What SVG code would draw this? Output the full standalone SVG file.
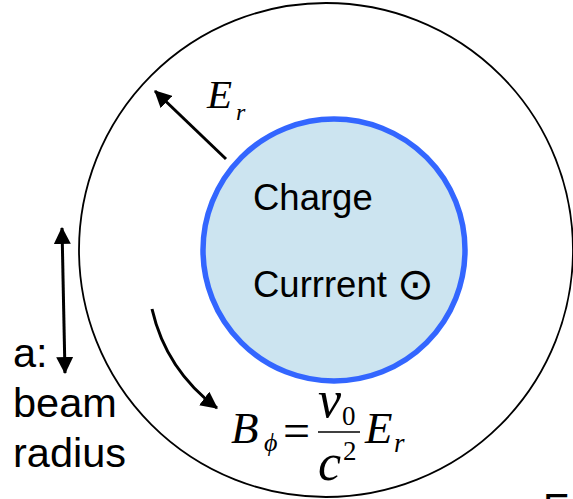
<svg xmlns="http://www.w3.org/2000/svg" width="573" height="499" viewBox="0 0 573 499">
  <defs>
    <style>
      .sans { font-family: "Liberation Sans", Arial, sans-serif; fill: #000; }
      .math { font-family: "Liberation Serif", "Times New Roman", serif; font-style: italic; fill: #000; }
      .up { font-family: "Liberation Serif", "Times New Roman", serif; fill: #000; }
      .arrow { fill: none; stroke: #000; stroke-width: 3; }
    </style>
    <marker id="head" viewBox="0 0 16 16" refX="15" refY="8" markerWidth="17" markerHeight="17" markerUnits="userSpaceOnUse" orient="auto-start-reverse">
      <path d="M0,0 L16,8 L0,16 z" fill="#000"/>
    </marker>
  </defs>
  <rect width="573" height="499" fill="#fff"/>

  <g id="outer-region">
    <circle cx="326" cy="250" r="247" fill="none" stroke="#000" stroke-width="1.8"/>
  </g>

  <g id="beam">
    <circle cx="334" cy="250" r="131" fill="#cce4f0" stroke="#3366ff" stroke-width="5.5"/>
    <text class="sans" x="253" y="210" font-size="36.5">Charge</text>
    <text class="sans" x="253" y="297" font-size="36.5">Currrent <tspan font-family="'DejaVu Sans', sans-serif" font-size="44" dy="2">⊙</tspan></text>
  </g>

  <g id="er-label">
    <text class="math" x="207" y="108" font-size="41">E</text>
    <text class="math" x="236" y="120" font-size="24">r</text>
  </g>

  <g id="formula">
    <text class="math" x="231" y="443" font-size="45">B</text>
    <text class="math" x="264" y="451" font-size="26">ϕ</text>
    <text class="up" x="283" y="447" font-size="48">=</text>
    <line x1="318" y1="432" x2="360" y2="432" stroke="#000" stroke-width="1.6"/>
    <text class="math" x="318" y="417" font-size="52">v</text>
    <text class="up" x="342" y="425" font-size="27">0</text>
    <text class="math" x="318" y="480" font-size="52">c</text>
    <text class="up" x="343" y="460" font-size="27">2</text>
    <text class="math" x="365" y="443" font-size="45">E</text>
    <text class="math" x="394" y="452" font-size="27">r</text>
  </g>

  <g id="radius-label">
    <text class="sans" x="13" y="367" font-size="41.5">a:</text>
    <text class="sans" x="13" y="417" font-size="41.5">beam</text>
    <text class="sans" x="13" y="467" font-size="41.5">radius</text>
  </g>

  <g id="edge-label">
    <text class="sans" x="543" y="522" font-size="40">E</text>
  </g>

  <g id="connectors">
    <line class="arrow" x1="226" y1="159" x2="155" y2="91" marker-end="url(#head)"/>
    <line class="arrow" x1="62" y1="228" x2="65" y2="373" marker-start="url(#head)" marker-end="url(#head)"/>
    <path class="arrow" d="M152,309 Q166,370 217,408" marker-end="url(#head)"/>
  </g>
</svg>
